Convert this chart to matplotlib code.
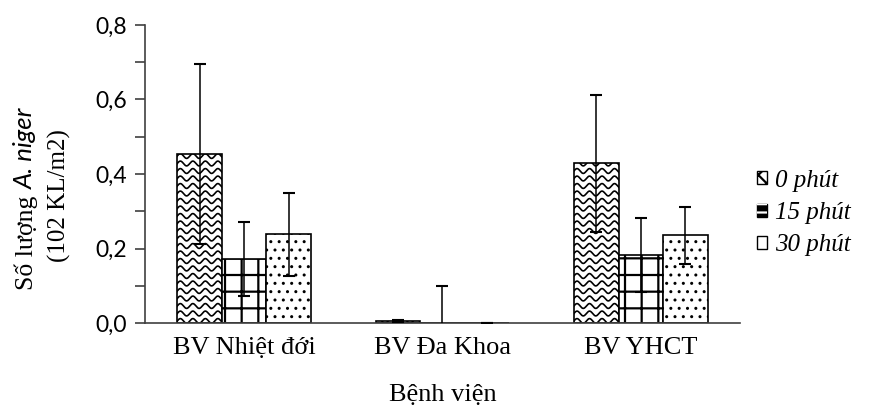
import matplotlib
matplotlib.use("Agg")
import matplotlib.pyplot as plt
import numpy as np
from matplotlib.patches import Patch
from matplotlib.legend_handler import HandlerTuple
from matplotlib.font_manager import FontProperties
from matplotlib.ticker import MultipleLocator, FuncFormatter

# data
hospitals = ["BV Nhiệt đới", "BV Đa Khoa", "BV YHCT"]
series = ["0 phút", "15 phút", "30 phút"]
val_0 = [0.453, 0.005, 0.429]
val_15 = [0.172, 0.0, 0.183]
val_30 = [0.238, 0.001, 0.235]
err_0 = [0.242, 0.003, 0.184]
err_15 = [0.100, 0.100, 0.100]
err_30 = [0.111, 0.0, 0.077]

SERIF = "Liberation Serif"
SANS = "Lato"

plt.rcParams["hatch.linewidth"] = 1.6

fig = plt.figure(figsize=(8.7, 4.08), dpi=100)
ax = fig.add_axes([145/870, 1-323/408, (740-145)/870, (323-25)/408])

x = np.arange(len(hospitals))
w = 0.225
px_x = 198.3   # pixels per x unit
px_y = 372.5   # pixels per y unit


def wave_fill(ax, rect):
    # zigzag pattern clipped to the bar
    x0 = rect.get_x()
    x1 = x0 + rect.get_width()
    h = rect.get_height()
    xs = np.linspace(x0 - 0.05, x1 + 0.05, 200)
    lam = 12.5 / px_x
    amp = 2.4 / px_y
    dy = 7.5 / px_y
    k = 0
    while k * dy - amp < h + dy:
        ys = k * dy + 2/px_y + amp * np.sin(2 * np.pi * (xs - x0) / lam)
        ln, = ax.plot(xs, ys, color="black", lw=1.2)
        ln.set_clip_path(rect)
        k += 1


b0 = ax.bar(x - w, val_0, w, facecolor="white", edgecolor="black", lw=1.2, zorder=2)
for r in b0:
    wave_fill(ax, r)
b15 = ax.bar(x, val_15, w, facecolor="white", edgecolor="black", lw=1.2, hatch="+", zorder=2)
with plt.rc_context({"hatch.linewidth": 1.0}):
    b30 = ax.bar(x + w, val_30, w, facecolor="white", edgecolor="black", lw=1.2, hatch="..", zorder=2)
for r in b30:
    if hasattr(r, "set_hatch_linewidth"):
        r.set_hatch_linewidth(1.0)

for off, v, e in [(-w, val_0, err_0), (0, val_15, err_15), (w, val_30, err_30)]:
    ax.errorbar(x + off, v, yerr=e, fmt="none", ecolor="black", elinewidth=1.1,
                capsize=4.5, capthick=1.5, zorder=3)

ax.set_xlim(-0.5, 2.5)
ax.set_ylim(0, 0.8)
ax.yaxis.set_major_locator(MultipleLocator(0.2))
ax.yaxis.set_minor_locator(MultipleLocator(0.1))
ax.yaxis.set_major_formatter(FuncFormatter(lambda v, p: f"{v:.1f}".replace(".", ",")))
ax.set_xticks(x)
ax.set_xticklabels(hospitals, family=SERIF, fontsize=19)
ax.tick_params(axis="x", length=0, pad=10)
ax.tick_params(axis="y", which="both", length=7, width=1.2, color="#404040",
               direction="out", labelsize=16.5, pad=6)
for lab in ax.get_yticklabels():
    lab.set_family(SANS)
for s in ["top", "right"]:
    ax.spines[s].set_visible(False)
for s in ["left", "bottom"]:
    ax.spines[s].set_color("#404040")
    ax.spines[s].set_linewidth(1.2)

fig.text(443/870, 1-395/408, "Bệnh viện", family=SERIF, fontsize=19,
         ha="center", va="center")

# y label with mixed fonts
fig.canvas.draw()
rend = fig.canvas.get_renderer()
t1 = fig.text(0, 0, "Số lượng ", family=SERIF, fontsize=18.5, rotation=90,
              rotation_mode="anchor", ha="left", va="baseline")
t2 = fig.text(0, 0, "A. niger", family=SANS, style="italic", fontsize=18.5, rotation=90,
              rotation_mode="anchor", ha="left", va="baseline")
h1 = t1.get_window_extent(rend).height
h2 = t2.get_window_extent(rend).height
H = fig.bbox.height
start = (H - 199) - (h1 + h2) / 2
bx = 33 / 870
t1.set_position((bx, start / H))
t2.set_position((bx, (start + h1) / H))
fig.text(66/870, 1-196/408, "(102 KL/m2)", family=SERIF, fontsize=18, rotation=90,
         rotation_mode="anchor", ha="center", va="baseline")

# legend
hd0 = Patch(facecolor="white", edgecolor="black", hatch="xx", lw=1)
hd15 = (Patch(facecolor="black", edgecolor="black", lw=1),
        Patch(facecolor="none", edgecolor="white", hatch="--", lw=0))
hd30 = Patch(facecolor="white", edgecolor="black", lw=1)
leg_font = FontProperties(family=SERIF, style="italic", size=18)
leg = fig.legend([hd0, hd15, hd30], series, loc="center left",
                 bbox_to_anchor=(757/870, 1-213/408), frameon=False, borderpad=0,
                 borderaxespad=0,
                 handler_map={tuple: HandlerTuple(ndivide=1)},
                 handlelength=0.42, handleheight=0.42, handletextpad=0.3,
                 labelspacing=0.42, prop=leg_font)

fig.savefig("out.png", dpi=100)
